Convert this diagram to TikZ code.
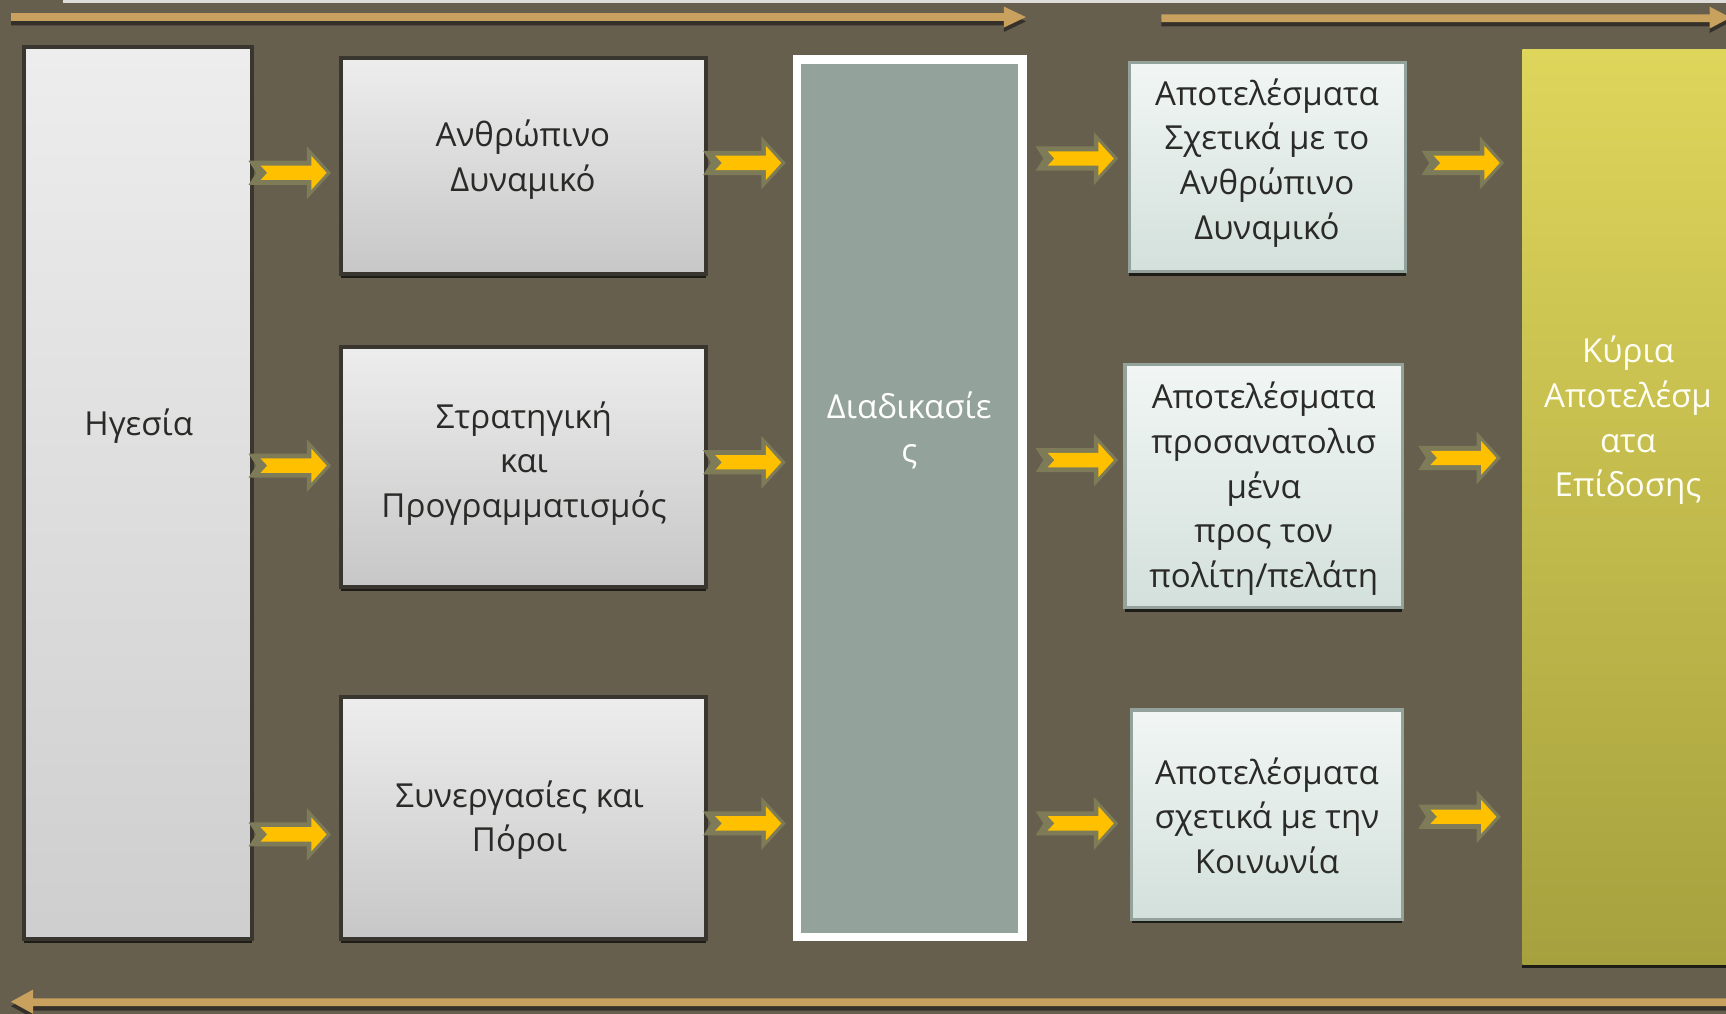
\documentclass[tikz,border=0pt]{standalone}
\usepackage{fontspec}
\setmainfont{Open Sans}
\usetikzlibrary{fit,calc,shadows}

\definecolor{bg}{HTML}{675F4D}
\definecolor{tan}{HTML}{C9A15E}
\definecolor{tanshade}{HTML}{35312A}
\definecolor{chevout}{HTML}{7E7B58}
\definecolor{chevin}{HTML}{FFC000}
\definecolor{boxline}{HTML}{38362E}
\definecolor{procfill}{HTML}{93A29A}
\definecolor{resline}{HTML}{93A39B}
\definecolor{txtdark}{HTML}{2A2A28}

\tikzset{
  box/.style={draw=boxline, line width=1.1pt, inner sep=0pt, top color=white!93!black, bottom color=white!78!black,
    drop shadow={shadow xshift=0pt, shadow yshift=-0.04cm, opacity=0.7, fill=black}},
  resbox/.style={draw=resline, line width=0.9pt, inner sep=0pt, top color={rgb,255:red,241;green,246;blue,244}, bottom color={rgb,255:red,211;green,224;blue,219},
    drop shadow={shadow xshift=0pt, shadow yshift=-0.04cm, opacity=0.7, fill=black}},
  txt/.style={align=center, text=txtdark, font=\fontsize{9.4}{12.7}\selectfont},
  pics/chev/.style={code={
    \fill[chevout] (0,11) -- (53,11) -- (53,24) -- (75,0) -- (53,-24) -- (53,-11) -- (0,-11) -- (7,0) -- cycle;
    \fill[chevin] (11,6.5) -- (57,6.5) -- (57,15.5) -- (71,0) -- (57,-15.5) -- (57,-6.5) -- (11,-6.5) -- (17,0) -- cycle;
  }}
}

\begin{document}
\begin{tikzpicture}[x=0.011008cm, y=-0.011008cm]
    % Fond
    \useasboundingbox (0,0) rectangle (1568,921);
    \clip (0,0) rectangle (1568,921);
    \fill[bg] (0,0) rectangle (1568,921);
    \fill[white!78!bg] (57,0) rectangle (1568,2.7);

    % Grandes fleches
    \fill[tanshade] (10,16) -- (912,16) -- (912,10) -- (932,19.5) -- (912,29) -- (912,23) -- (10,23) -- cycle;
    \fill[tan] (10,12) -- (912,12) -- (912,6) -- (932,15.5) -- (912,25) -- (912,19) -- (10,19) -- cycle;
    \fill[tanshade] (1055,17) -- (1553,17) -- (1553,10) -- (1572,20) -- (1553,30) -- (1553,24) -- (1055,24) -- cycle;
    \fill[tan] (1055,13) -- (1553,13) -- (1553,6) -- (1572,16) -- (1553,26) -- (1553,20) -- (1055,20) -- cycle;
    \fill[tanshade] (1568,911) -- (30,911) -- (30,903) -- (10,914) -- (30,925) -- (30,918) -- (1568,918) -- cycle;
    \fill[tan] (1568,907) -- (30,907) -- (30,899) -- (10,910) -- (30,921) -- (30,914) -- (1568,914) -- cycle;

    % Boites
    \node[box, bottom color=white!81!black, fit={(22,43) (229,853)}] (lead) {};
    \node[box, fit={(310,53) (641,249)}] (hr) {};
    \node[box, fit={(310,315) (641,533)}] (plan) {};
    \node[box, fit={(310,633) (641,853)}] (part) {};
    \node[draw=white, line width=2.4pt, fill=procfill, inner sep=0pt, fit={(724,54) (929,851)}] (proc) {};
    \node[resbox, fit={(1026,57) (1277,247)}] (resa) {};
    \node[resbox, fit={(1022,331) (1274,552)}] (resb) {};
    \node[resbox, fit={(1028,645) (1274,835)}] (resc) {};
    \node[inner sep=0pt, top color={rgb,255:red,222;green,213;blue,91}, bottom color={rgb,255:red,166;green,161;blue,62},
      drop shadow={shadow xshift=0pt, shadow yshift=-0.04cm, opacity=0.7, fill=black},
      fit={(1383,45) (1590,876)}] (key) {};

    % Textes
    \node[txt] (lead-t) at (126,387) {Ηγεσία};
    \node[txt] (hr-t) at (475,145) {Ανθρώπινο\\Δυναμικό};
    \node[txt] (plan-t) at (476,421) {Στρατηγική\\και\\Προγραμματισμός};
    \node[txt] (part-t) at (472,745) {Συνεργασίες και\\Πόροι};
    \node[txt, text=white] (proc-t) at (826,391) {Διαδικασίε\\ς};
    \node[txt] (resa-t) at (1151,148) {Αποτελέσματα\\Σχετικά με το\\Ανθρώπινο\\Δυναμικό};
    \node[txt] (resb-t) at (1148,444) {Αποτελέσματα\\προσανατολισ\\μένα\\προς τον\\πολίτη/πελάτη};
    \node[txt] (resc-t) at (1151,741) {Αποτελέσματα\\σχετικά με την\\Κοινωνία};
    \node[txt, text=white!96!yellow] (key-t) at (1479,382) {Κύρια\\Αποτελέσμ\\ατα\\Επίδοσης};

    % Fleches entre les boites
    \foreach \r/\s/\da/\db/\dc/\dd in {hr/resa/6/-3/-7/-3, plan/resb/-1/-4/-6/-8, part/resc/15/5/5/-1} {
      \pic at ($(lead.east |- \r.center)+(-5,\da)$) {chev};
      \pic at ($(\r.east)+(-4,\db)$) {chev};
      \pic at ($(proc.east |- \r.center)+(8,\dc)$) {chev};
      \pic at ($(\s.east |- \r.center)+(13,\dd)$) {chev};
    }
\end{tikzpicture}
\end{document}
